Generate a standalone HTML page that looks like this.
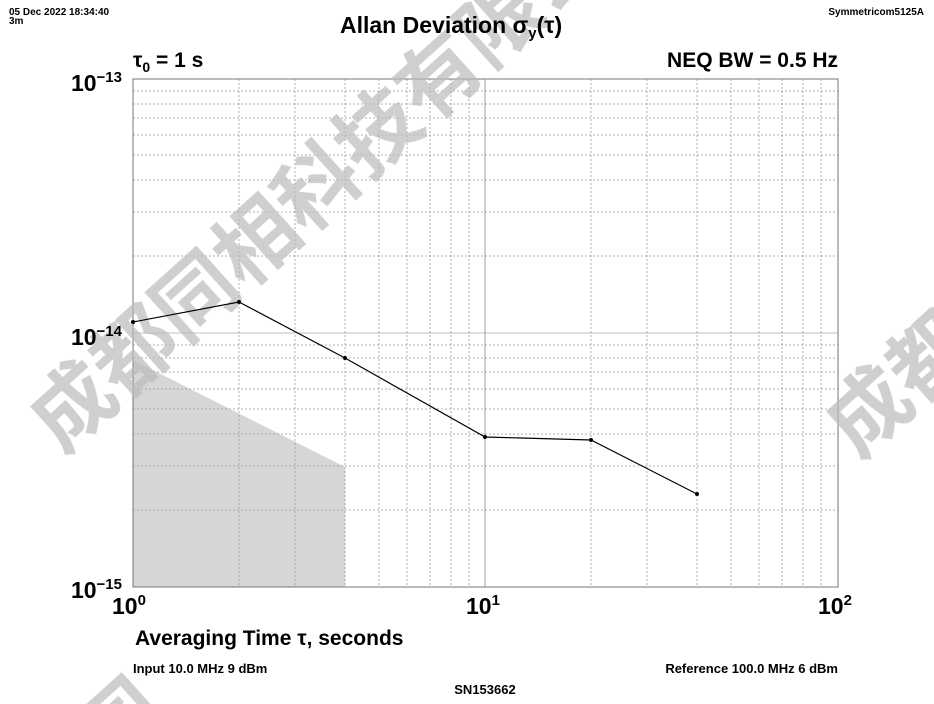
<!DOCTYPE html>
<html><head><meta charset="utf-8"><style>
html,body{margin:0;background:#fff;width:934px;height:704px;overflow:hidden}
svg{display:block;overflow:hidden}
svg text{font-family:"Liberation Sans","Noto Sans CJK SC",sans-serif}
</style></head><body>
<svg width="934" height="704" xmlns="http://www.w3.org/2000/svg">
<polygon points="133,360 345,467 345,587 133,587" fill="#d6d6d6"/>
<g id="grid" stroke="#999" stroke-width="0.8" stroke-dasharray="2,2">
<line x1="239" y1="79" x2="239" y2="587"/><line x1="295" y1="79" x2="295" y2="587"/><line x1="345" y1="79" x2="345" y2="587"/><line x1="379" y1="79" x2="379" y2="587"/><line x1="407" y1="79" x2="407" y2="587"/><line x1="430" y1="79" x2="430" y2="587"/><line x1="451" y1="79" x2="451" y2="587"/><line x1="469" y1="79" x2="469" y2="587"/>
<line x1="591" y1="79" x2="591" y2="587"/><line x1="647" y1="79" x2="647" y2="587"/><line x1="697" y1="79" x2="697" y2="587"/><line x1="731" y1="79" x2="731" y2="587"/><line x1="759" y1="79" x2="759" y2="587"/><line x1="782" y1="79" x2="782" y2="587"/><line x1="803" y1="79" x2="803" y2="587"/><line x1="821" y1="79" x2="821" y2="587"/>
<line x1="133" y1="256" x2="838" y2="256"/><line x1="133" y1="212" x2="838" y2="212"/><line x1="133" y1="180" x2="838" y2="180"/><line x1="133" y1="155" x2="838" y2="155"/><line x1="133" y1="135" x2="838" y2="135"/><line x1="133" y1="118" x2="838" y2="118"/><line x1="133" y1="104" x2="838" y2="104"/><line x1="133" y1="91" x2="838" y2="91"/>
<line x1="133" y1="510" x2="838" y2="510"/><line x1="133" y1="466" x2="838" y2="466"/><line x1="133" y1="434" x2="838" y2="434"/><line x1="133" y1="409" x2="838" y2="409"/><line x1="133" y1="389" x2="838" y2="389"/><line x1="133" y1="372" x2="838" y2="372"/><line x1="133" y1="358" x2="838" y2="358"/><line x1="133" y1="345" x2="838" y2="345"/>
</g>
<line x1="485" y1="79" x2="485" y2="587" stroke="#888" stroke-width="0.8"/>
<line x1="133" y1="333" x2="838" y2="333" stroke="#aaa" stroke-width="0.8"/>
<rect x="133" y="79" width="705" height="508" fill="none" stroke="#777" stroke-width="1"/>
<g font-size="82" font-weight="bold" fill="#bbb" opacity="0.7">
<text transform="translate(62,455) rotate(-42)">成都同相科技有限公司</text>
<text transform="translate(858,460) rotate(-42)">成都</text>
<text transform="translate(110,770) rotate(-42)">司</text>
</g>
<polyline points="133,322 239,302 345,358 485,437 591,440 697,494" fill="none" stroke="#000" stroke-width="1.2"/>
<g fill="#000"><circle cx="133" cy="322" r="2"/><circle cx="239" cy="302" r="2"/><circle cx="345" cy="358" r="2"/><circle cx="485" cy="437" r="2"/><circle cx="591" cy="440" r="2"/><circle cx="697" cy="494" r="2"/></g>
<text x="9" y="15" font-size="10" font-weight="bold">05 Dec 2022 18:34:40</text>
<text x="9" y="24" font-size="10" font-weight="bold">3m</text>
<text x="924" y="15" font-size="10" font-weight="bold" text-anchor="end">Symmetricom5125A</text>
<text x="340" y="33" font-size="23" font-weight="bold">Allan Deviation σ<tspan font-size="15" dy="5">y</tspan><tspan dy="-5">(τ)</tspan></text>
<text x="133" y="67" font-size="21" font-weight="bold">τ<tspan font-size="14" dy="5">0</tspan><tspan dy="-5"> = 1 s</tspan></text>
<text x="838" y="67" font-size="21" font-weight="bold" text-anchor="end">NEQ BW = 0.5 Hz</text>
<g font-size="23" font-weight="bold" text-anchor="end">
<text x="122" y="91">10<tspan font-size="15" dy="-9">−13</tspan></text>
<text x="122" y="345">10<tspan font-size="15" dy="-9">−14</tspan></text>
<text x="122" y="598">10<tspan font-size="15" dy="-9">−15</tspan></text>
</g>
<g font-size="23" font-weight="bold">
<text x="112" y="614">10<tspan font-size="15" dy="-9">0</tspan></text>
<text x="466" y="614">10<tspan font-size="15" dy="-9">1</tspan></text>
<text x="818" y="614">10<tspan font-size="15" dy="-9">2</tspan></text>
</g>
<text x="135" y="645" font-size="21" font-weight="bold">Averaging Time τ, seconds</text>
<text x="133" y="673" font-size="13" font-weight="bold">Input 10.0 MHz 9 dBm</text>
<text x="838" y="673" font-size="13" font-weight="bold" text-anchor="end">Reference 100.0 MHz 6 dBm</text>
<text x="485" y="694" font-size="13" font-weight="bold" text-anchor="middle">SN153662</text>
</svg>
</body></html>
